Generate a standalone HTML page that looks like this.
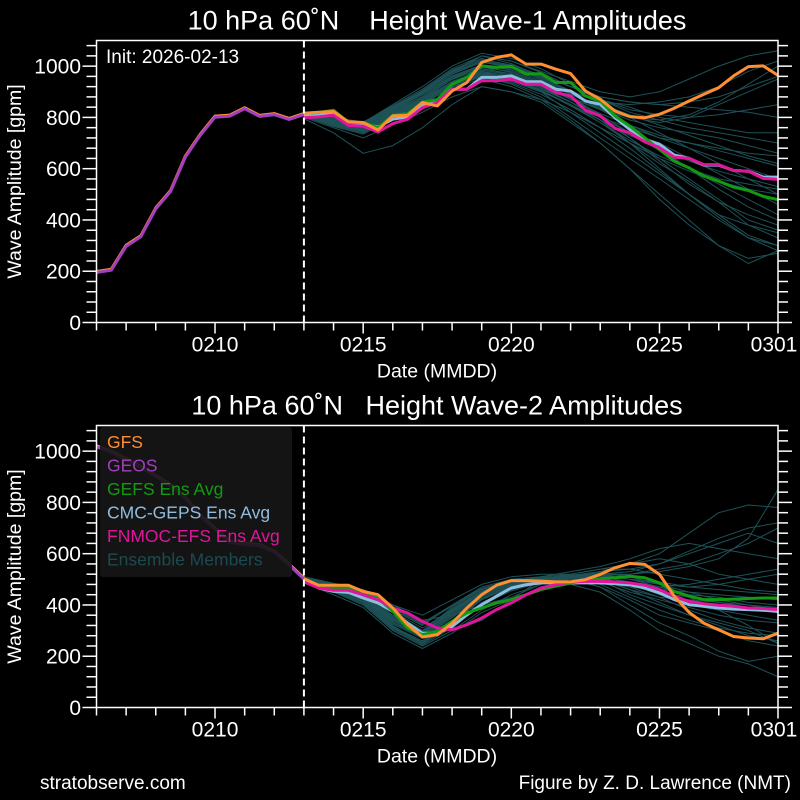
<!DOCTYPE html>
<html><head><meta charset="utf-8"><style>
html,body{margin:0;padding:0;background:#000;}
svg{display:block;font-family:"Liberation Sans",sans-serif;}
text{white-space:pre;}
</style></head><body>
<svg id="fig" width="800" height="800" viewBox="0 0 800 800" xmlns="http://www.w3.org/2000/svg">
<rect width="800" height="800" fill="#000"/>
<text x="40" y="789" fill="#fff" font-size="19">stratobserve.com</text>
<text x="791" y="789" fill="#fff" font-size="19" text-anchor="end">Figure by Z. D. Lawrence (NMT)</text>
</svg>
<script>
// ---- data (t in days from 0206, half-day steps) ----
const tickDays = [4, 9, 14, 19, 23];
const tickLabels = ["0210", "0215", "0220", "0225", "0301"];
const yTicks = [0, 200, 400, 600, 800, 1000];
const initDay = 7;
const w1History = [199,208,301,339,447,515,649,734,805,809,838,808,815,796,815];
const w1GFS = [816,820,823,783,780,751,806,808,858,845,903,936,1014,1034,1044,1008,1008,988,971,903,871,825,803,799,812,836,864,890,916,962,998,1001,964];
const w1GEFS = [816,819,828,780,780,760,808,815,858,870,929,956,1001,995,999,969,971,936,936,884,864,806,766,721,675,629,603,571,551,528,515,492,479];
const w1CMC = [808,812,819,776,773,763,793,802,845,865,910,910,956,956,962,939,939,910,903,864,851,799,753,714,695,653,640,614,614,593,590,567,567];
const w1FNMOC = [799,802,809,769,766,743,776,793,838,858,910,910,943,943,949,929,929,897,884,828,806,757,740,705,682,645,640,616,616,593,590,562,558];
const w1Members = [
[815,790,770,830,880,960,1000,960,920,860,800,760,720,700,680,660,650],
[810,780,760,820,870,950,990,970,930,880,830,800,780,800,850,900,950],
[820,800,780,840,900,980,1040,1010,960,900,840,760,680,600,520,450,400],
[805,770,740,800,860,930,960,930,880,800,720,640,560,480,400,330,280],
[815,785,750,810,870,940,980,950,900,820,740,660,580,500,420,340,300],
[810,790,770,830,890,970,1020,1000,960,920,880,860,850,860,880,920,960],
[800,760,720,770,820,880,920,900,860,780,700,600,500,400,300,230,280],
[820,800,780,850,920,1000,1050,1030,990,930,870,820,790,760,740,720,700],
[812,786,765,825,880,955,995,980,940,890,840,800,740,680,620,560,500],
[808,780,755,815,865,935,975,955,915,860,800,740,670,600,540,480,420],
[816,792,772,832,888,962,1005,985,945,890,835,790,760,740,720,690,660],
[810,775,745,805,850,920,960,940,900,850,790,730,680,630,590,560,530],
[818,795,775,840,905,985,1030,1000,955,900,860,850,860,880,920,980,1020],
[805,765,735,795,855,925,965,945,905,845,780,700,620,550,470,380,330],
[813,788,760,820,875,950,1000,975,935,880,810,740,700,640,580,520,460],
[795,740,660,690,760,850,920,900,870,820,760,700,640,590,550,520,500],
[812,788,768,828,882,958,1000,990,960,920,870,840,800,780,760,740,740],
[806,778,752,812,862,932,972,950,910,860,790,700,600,500,420,380,350],
[814,792,774,836,896,976,1040,1020,980,940,900,880,900,950,1000,1040,1060],
[803,772,748,806,858,918,950,920,870,790,700,600,480,380,300,250,270],
[818,800,782,845,910,990,1040,1020,975,920,870,830,810,800,810,830,850],
[802,770,745,805,860,928,968,945,905,850,790,720,640,560,480,400,360],
[816,794,776,838,898,975,1020,995,950,895,830,770,720,680,640,600,560],
[809,782,758,818,868,940,985,965,925,870,815,770,730,700,670,640,610],
[811,784,762,822,874,948,990,970,930,875,805,720,630,540,470,420,380],
[807,776,750,812,866,936,980,960,920,875,830,800,790,810,860,930,1000],
[815,792,770,834,892,968,1015,995,955,905,855,810,770,730,690,650,620],
[804,768,740,800,852,920,958,935,890,830,760,680,590,500,410,330,300],
[817,796,778,842,902,980,1025,1005,965,920,880,860,850,840,830,820,800],
[806,774,748,808,860,930,970,948,905,850,780,710,650,600,560,540,520]
];
const w2History = [1021,1000,970,940,905,870,820,750,700,649,640,636,610,560,505];
const w2GFS = [502,477,477,477,453,440,388,323,275,284,329,388,440,477,495,495,493,490,490,499,519,545,562,558,519,434,371,329,303,277,271,268,290];
const w2GEFS = [502,473,466,466,447,427,375,310,284,297,336,369,388,408,421,440,460,473,486,496,502,506,512,506,486,453,434,421,421,423,425,427,427];
const w2CMC = [499,466,453,449,427,408,375,329,290,290,316,362,401,434,466,479,486,486,486,486,486,483,479,466,447,421,401,395,388,384,382,379,375];
const w2FNMOC = [492,466,457,457,440,421,388,369,336,310,303,323,349,382,408,440,466,479,490,492,492,490,486,477,460,434,414,405,399,395,388,386,382];
const w2Members = [
[500,470,430,340,290,380,450,480,500,510,520,480,440,400,380,360,340],
[495,460,420,320,250,330,420,470,490,500,490,450,420,390,360,340,330],
[505,480,450,380,320,400,470,500,510,520,540,560,600,680,760,790,780],
[490,450,400,300,240,300,380,440,480,500,470,400,330,280,220,180,200],
[510,485,460,400,360,420,480,510,520,520,500,460,430,420,410,400,390],
[500,475,440,350,270,350,440,490,510,530,550,580,620,640,620,600,580],
[495,465,425,330,280,360,440,480,490,480,450,380,300,250,200,170,120],
[485,440,390,290,230,290,370,420,460,480,490,470,460,450,440,430,420],
[505,480,450,400,340,360,400,430,480,520,540,540,520,500,480,460,450],
[500,470,435,345,300,390,460,495,505,510,520,520,540,560,600,640,700],
[498,468,432,340,285,370,445,485,500,505,480,430,380,340,310,290,280],
[502,475,445,360,300,385,455,490,505,515,525,510,480,450,420,400,380],
[492,455,410,310,250,320,410,460,490,510,530,560,580,560,520,500,480],
[508,482,455,390,330,400,465,495,505,500,470,420,360,330,300,260,240],
[496,462,420,325,270,340,420,470,495,505,500,480,470,480,500,520,540],
[503,478,448,370,300,300,340,420,500,520,500,440,400,360,330,300,250],
[500,472,438,350,290,375,450,488,502,512,510,490,470,440,430,410,400],
[494,458,415,315,260,340,430,475,498,508,515,520,530,550,580,660,850],
[498,466,428,335,280,365,445,485,500,508,512,500,490,470,460,450,440],
[504,479,451,375,310,380,450,488,505,515,520,530,560,610,660,700,720],
[492,452,405,305,245,310,400,455,488,505,505,470,430,380,340,310,290],
[501,474,442,355,295,380,452,488,503,512,515,500,480,470,480,500,520],
[497,464,424,330,275,355,435,478,496,506,500,460,410,360,320,280,260],
[506,481,452,385,325,395,462,494,506,515,530,540,560,600,640,680,640],
[499,469,433,342,288,372,448,486,501,509,505,480,450,430,410,390,370],
[493,456,412,312,255,330,425,472,496,510,520,500,470,430,380,320,250]
];
const legendLabels = ["GFS","GEOS","GEFS Ens Avg","CMC-GEPS Ens Avg","FNMOC-EFS Ens Avg","Ensemble Members"];
const legendColors = ["#ff8f33","#a33fbf","#129a12","#8fbde0","#e0159c","#1b4b50"];

const NS = "http://www.w3.org/2000/svg";
const svg = document.getElementById("fig");
function mk(tag, attrs, parent){const e=document.createElementNS(NS,tag);for(const k in attrs)e.setAttribute(k,attrs[k]);(parent||svg).appendChild(e);return e;}

const X0=96.5, X1=778, DAYS=23, YMAX=1100;
function xs(t){return X0+(X1-X0)*t/DAYS;}

function panel(top, title, hist, gfs, gefs, cmc, fnmoc, members, name, withInit, withLegend){
  const bot=top+282;
  const ys=v=>bot-(bot-top)*v/YMAX;
  const g=mk("g",{});
  
  
  const t=mk("text",{x:437,y:top-11,fill:"#fff","font-size":27,"text-anchor":"middle"},g);
  t.textContent=title;
  
  
  const clip="clip"+top;
  const cp=mk("clipPath",{id:clip},g);mk("rect",{x:X0,y:top,width:X1-X0,height:bot-top},cp);
  const pg=mk("g",{"clip-path":"url(#"+clip+")"},g);
  const path=(arr,t0,step,color,wd,nm)=>{
    let d=arr.map((v,i)=>(i?"L":"M")+xs(t0+i*step).toFixed(1)+","+ys(v).toFixed(1)).join("");
    const p=mk("path",{d:d,fill:"none",stroke:color,"stroke-width":wd,"stroke-linejoin":"round"},pg);
    
    
    return p;
  };
  members.forEach((m,i)=>path(m,initDay,1,"#1e5257",1,"ensemble-member-line"));
  path(hist,0,0.5,"#ff8f33",3,"gfs-history-line");
  path(hist.map(v=>v-4),0,0.5,"#a33fbf",3,"geos-line");
  path(cmc,initDay,0.5,"#8fbde0",3,"cmc-geps-line");
  path(gefs,initDay,0.5,"#129a12",3,"gefs-line");
  path(fnmoc,initDay,0.5,"#e0159c",3,"fnmoc-efs-line");
  path(gfs,initDay,0.5,"#ff8f33",3,"gfs-line");
  const il=mk("line",{x1:xs(initDay),x2:xs(initDay),y1:top,y2:bot,stroke:"#fff","stroke-width":2,"stroke-dasharray":"7,4"},g);
  
  
  if(withLegend){
    const lg=mk("g",{},g);
    
    
    mk("rect",{x:100,y:427,width:192,height:150,rx:3,fill:"rgba(22,22,22,0.9)"},lg);
    legendLabels.forEach((l,i)=>{
      const tx=mk("text",{x:107,y:448+i*23.5,fill:legendColors[i],"font-size":17.5},lg);
      tx.textContent=l;
      
      
    });
  }
  if(withInit){
    const it=mk("text",{x:106,y:63,fill:"#fff","font-size":19},g);
    it.textContent="Init: 2026-02-13";
    
    
  }
  const fr=mk("rect",{x:X0,y:top,width:X1-X0,height:bot-top,fill:"none",stroke:"#fff","stroke-width":1.5},g);
  
  
  for(let d=0;d<=DAYS;d++){mk("line",{x1:xs(d),x2:xs(d),y1:bot,y2:bot+(tickDays.includes(d)?11:8),stroke:"#fff","stroke-width":1.5},g);}
  tickDays.forEach((d,i)=>{
    const tx=mk("text",{x:xs(d)-(i===4?4:0),y:bot+29,fill:"#fff","font-size":21,"text-anchor":"middle"},g);
    tx.textContent=tickLabels[i];
    
    
  });
  const xl=mk("text",{x:437,y:bot+55,fill:"#fff","font-size":19.5,"text-anchor":"middle"},g);
  xl.textContent="Date (MMDD)";
  
  
  for(let v=0;v<=YMAX;v+=40){
    const major=v%200===0;
    mk("line",{x1:X0-(major?14:10),x2:X0,y1:ys(v),y2:ys(v),stroke:"#fff","stroke-width":1.5},g);
    mk("line",{x1:X1,x2:X1+(major?14:10),y1:ys(v),y2:ys(v),stroke:"#fff","stroke-width":1.5},g);
  }
  yTicks.forEach(v=>{
    const tx=mk("text",{x:81,y:ys(v)+7.5,fill:"#fff","font-size":21,"text-anchor":"end"},g);
    tx.textContent=String(v);
    
    
  });
  const yl=mk("text",{x:0,y:0,fill:"#fff","font-size":19.5,"text-anchor":"middle",transform:"translate(21,"+((top+bot)/2)+") rotate(-90)"},g);
  yl.textContent="Wave Amplitude [gpm]";
  
  
}
panel(40.5,"10 hPa 60˚N    Height Wave-1 Amplitudes",w1History,w1GFS,w1GEFS,w1CMC,w1FNMOC,w1Members,"wave1-chart",true,false);
panel(425.5,"10 hPa 60˚N   Height Wave-2 Amplitudes",w2History,w2GFS,w2GEFS,w2CMC,w2FNMOC,w2Members,"wave2-chart",false,true);
</script>
</body></html>
